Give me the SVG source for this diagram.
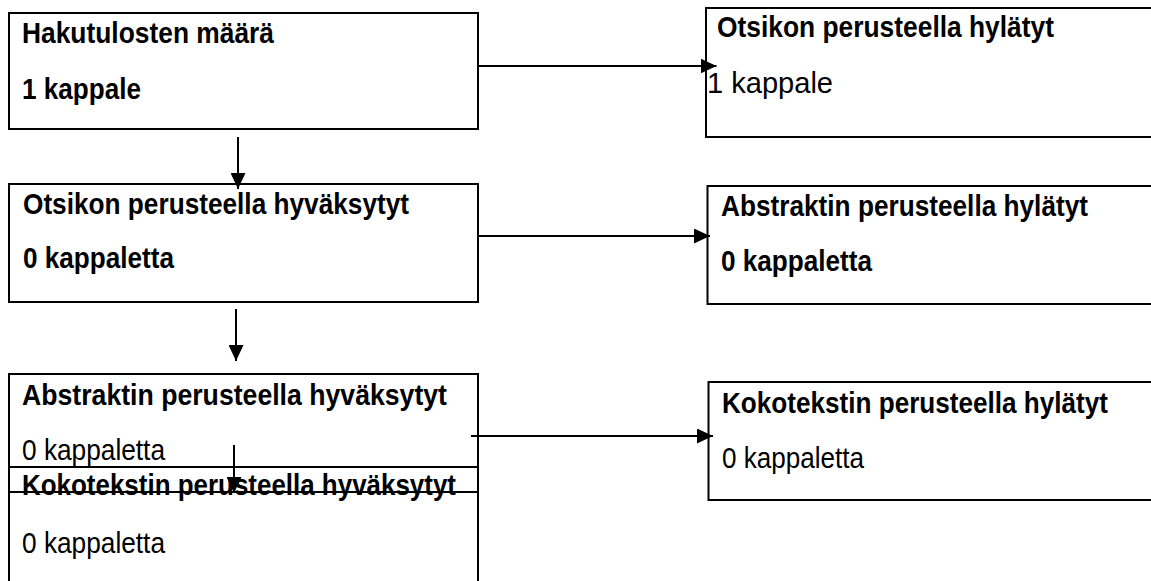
<svg xmlns="http://www.w3.org/2000/svg" width="1151" height="581" viewBox="0 0 1151 581">
<style>
.box{fill:none;stroke:#000;stroke-width:2}
.con{fill:none;stroke:#000;stroke-width:2;marker-end:url(#ah)}
text{font-family:"Liberation Sans",Arial,sans-serif;font-size:30px;fill:#000}
.b{font-weight:bold}
</style>
<defs>
<marker id="ah" viewBox="0 0 16 15" refX="16" refY="7.5" markerWidth="16" markerHeight="15" markerUnits="userSpaceOnUse" orient="auto">
<path d="M0,0 L16,7.5 L0,15 z" fill="#000"/>
</marker>
</defs>
<rect width="1151" height="581" fill="#fff"/>
<g id="n1">
<rect class="box" x="9" y="13" width="469" height="116"/>
<text class="b" x="22" y="43" textLength="252" lengthAdjust="spacingAndGlyphs">Hakutulosten määrä</text>
<text class="b" x="22" y="99" textLength="119" lengthAdjust="spacingAndGlyphs">1 kappale</text>
</g>
<g id="n2">
<rect class="box" x="706" y="8" width="460" height="129"/>
<text class="b" x="717" y="37" textLength="337" lengthAdjust="spacingAndGlyphs">Otsikon perusteella hylätyt</text>
<text x="707" y="93" textLength="126" lengthAdjust="spacingAndGlyphs">1 kappale</text>
</g>
<g id="n3">
<rect class="box" x="9" y="184" width="469" height="118"/>
<text class="b" x="23" y="214" textLength="386" lengthAdjust="spacingAndGlyphs">Otsikon perusteella hyväksytyt</text>
<text class="b" x="23" y="268" textLength="151" lengthAdjust="spacingAndGlyphs">0 kappaletta</text>
</g>
<g id="n4">
<rect class="box" x="707.5" y="186" width="460" height="118"/>
<text class="b" x="721" y="216" textLength="367" lengthAdjust="spacingAndGlyphs">Abstraktin perusteella hylätyt</text>
<text class="b" x="721" y="271" textLength="151" lengthAdjust="spacingAndGlyphs">0 kappaletta</text>
</g>
<g id="n5">
<rect class="box" x="9" y="374" width="469" height="118"/>
<text class="b" x="22" y="405" textLength="425" lengthAdjust="spacingAndGlyphs">Abstraktin perusteella hyväksytyt</text>
<text x="22" y="460" textLength="143" lengthAdjust="spacingAndGlyphs">0 kappaletta</text>
</g>
<g id="n6">
<rect class="box" x="9" y="467" width="469" height="130"/>
<text class="b" x="22" y="495" textLength="434" lengthAdjust="spacingAndGlyphs">Kokotekstin perusteella hyväksytyt</text>
<text x="22" y="553" textLength="143" lengthAdjust="spacingAndGlyphs">0 kappaletta</text>
</g>
<g id="n7">
<rect class="box" x="708.5" y="382" width="460" height="118"/>
<text class="b" x="722" y="413" textLength="386" lengthAdjust="spacingAndGlyphs">Kokotekstin perusteella hylätyt</text>
<text x="722" y="468" textLength="142" lengthAdjust="spacingAndGlyphs">0 kappaletta</text>
</g>
<g id="connectors">
<line class="con" x1="478" y1="66" x2="716.5" y2="66"/>
<line class="con" x1="478" y1="236" x2="710" y2="236"/>
<line class="con" x1="471" y1="436" x2="713" y2="436"/>
<line class="con" x1="238" y1="137" x2="238" y2="189"/>
<line class="con" x1="236" y1="309" x2="236" y2="361"/>
<line class="con" x1="234" y1="445" x2="234" y2="493"/>
</g>
</svg>
